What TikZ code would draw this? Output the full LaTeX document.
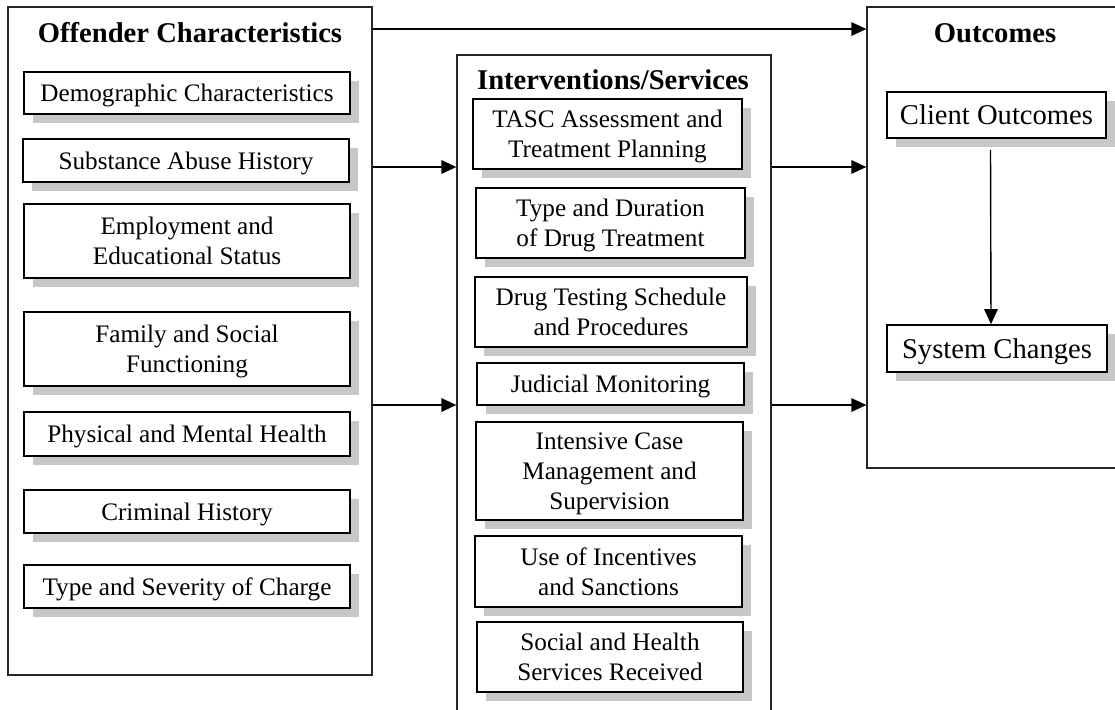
\documentclass[tikz,border=0pt]{standalone}
\usepackage{fontspec}
\setmainfont{Liberation Serif}
\usetikzlibrary{arrows.meta,shadows}
\begin{document}
\begin{tikzpicture}[x=0.5pt,y=-0.5pt,
  outerbox/.style={draw=black!85, line width=0.65pt, rectangle, inner sep=0pt},
  itembox/.style={draw=black, line width=0.9pt, fill=white, rectangle, inner sep=0pt,
    align=center, text depth=0pt, font=\fontsize{12.6}{15}\selectfont,
    drop shadow={shadow xshift=4.5pt, shadow yshift=-4.5pt, fill=black!22, opacity=1}},
  bigbox/.style={itembox, font=\fontsize{14.3}{17}\selectfont},
  titlebox/.style={anchor=base, inner sep=0pt, font=\fontsize{14.3}{17}\selectfont\bfseries},
  arr/.style={draw=black, line width=0.7pt, -{Triangle[length=7.5pt,width=6.8pt]}}
]
\useasboundingbox (0,0) rectangle (1115,709);

% outer boxes
\node[outerbox, minimum width=182pt, minimum height=334pt] (left) at (190,341) {};
\node[outerbox, minimum width=157pt, minimum height=335pt] (mid) at (614,390) {};
\node[outerbox, minimum width=130pt, minimum height=230.5pt] (right) at (997,237.5) {};

% titles
\node[titlebox] (t1) at (190,42) {Offender Characteristics};
\node[titlebox] (t2) at (613,89) {Interventions/Services};
\node[titlebox] (t3) at (995,42) {Outcomes};

% left column
\node[itembox, minimum width=163pt, minimum height=21pt]   (demo)   at (187,93)    {Demographic Characteristics};
\node[itembox, minimum width=163pt, minimum height=21.5pt] (subst)  at (186,160.5) {Substance Abuse History};
\node[itembox, minimum width=163pt, minimum height=37pt]   (employ) at (187,241)   {Employment and\\Educational Status};
\node[itembox, minimum width=163pt, minimum height=37pt]   (family) at (187,349)   {Family and Social\\Functioning};
\node[itembox, minimum width=163pt, minimum height=22pt]   (phys)   at (187,434)   {Physical and Mental Health};
\node[itembox, minimum width=163pt, minimum height=21.5pt] (crim)   at (187,511.5) {Criminal History};
\node[itembox, minimum width=163pt, minimum height=21.5pt] (type)   at (187,586.5) {Type and Severity of Charge};

% middle column
\node[itembox, minimum width=134.5pt, minimum height=35pt]   (tasc) at (607.5,134) {TASC Assessment and\\Treatment Planning};
\node[itembox, minimum width=134.5pt, minimum height=35pt]   (dur)  at (610.5,223) {Type and Duration\\of Drug Treatment};
\node[itembox, minimum width=136pt,   minimum height=35pt]   (test) at (611,312)   {Drug Testing Schedule\\and Procedures};
\node[itembox, minimum width=133.5pt, minimum height=21pt]   (jud)  at (610.5,384) {Judicial Monitoring};
\node[itembox, minimum width=133.5pt, minimum height=49pt]   (icm)  at (609.5,471) {Intensive Case\\Management and\\Supervision};
\node[itembox, minimum width=133.5pt, minimum height=35.5pt] (inc)  at (608.5,571.5) {Use of Incentives\\and Sanctions};
\node[itembox, minimum width=133pt,   minimum height=35pt]   (soc)  at (610,657)   {Social and Health\\Services Received};

% right column
\node[bigbox, minimum width=109.5pt, minimum height=23pt]   (co) at (996.5,115)   {Client Outcomes};
\node[bigbox, minimum width=110pt,   minimum height=23.5pt] (sc) at (997,348.5)   {System Changes};

% arrow levels
\coordinate (lvA) at (0,29);
\coordinate (lvB) at (0,167);
\coordinate (lvC) at (0,405);

\draw[arr] (left.east |- lvA) -- (right.west |- lvA);
\draw[arr] (left.east |- lvB) -- (mid.west |- lvB);
\draw[arr] (left.east |- lvC) -- (mid.west |- lvC);
\draw[arr] (mid.east |- lvB) -- (right.west |- lvB);
\draw[arr] (mid.east |- lvC) -- (right.west |- lvC);
\draw[arr] ([xshift=-3pt,yshift=-5.5pt]co.south) -- ([xshift=-3pt]sc.north);
\end{tikzpicture}
\end{document}
